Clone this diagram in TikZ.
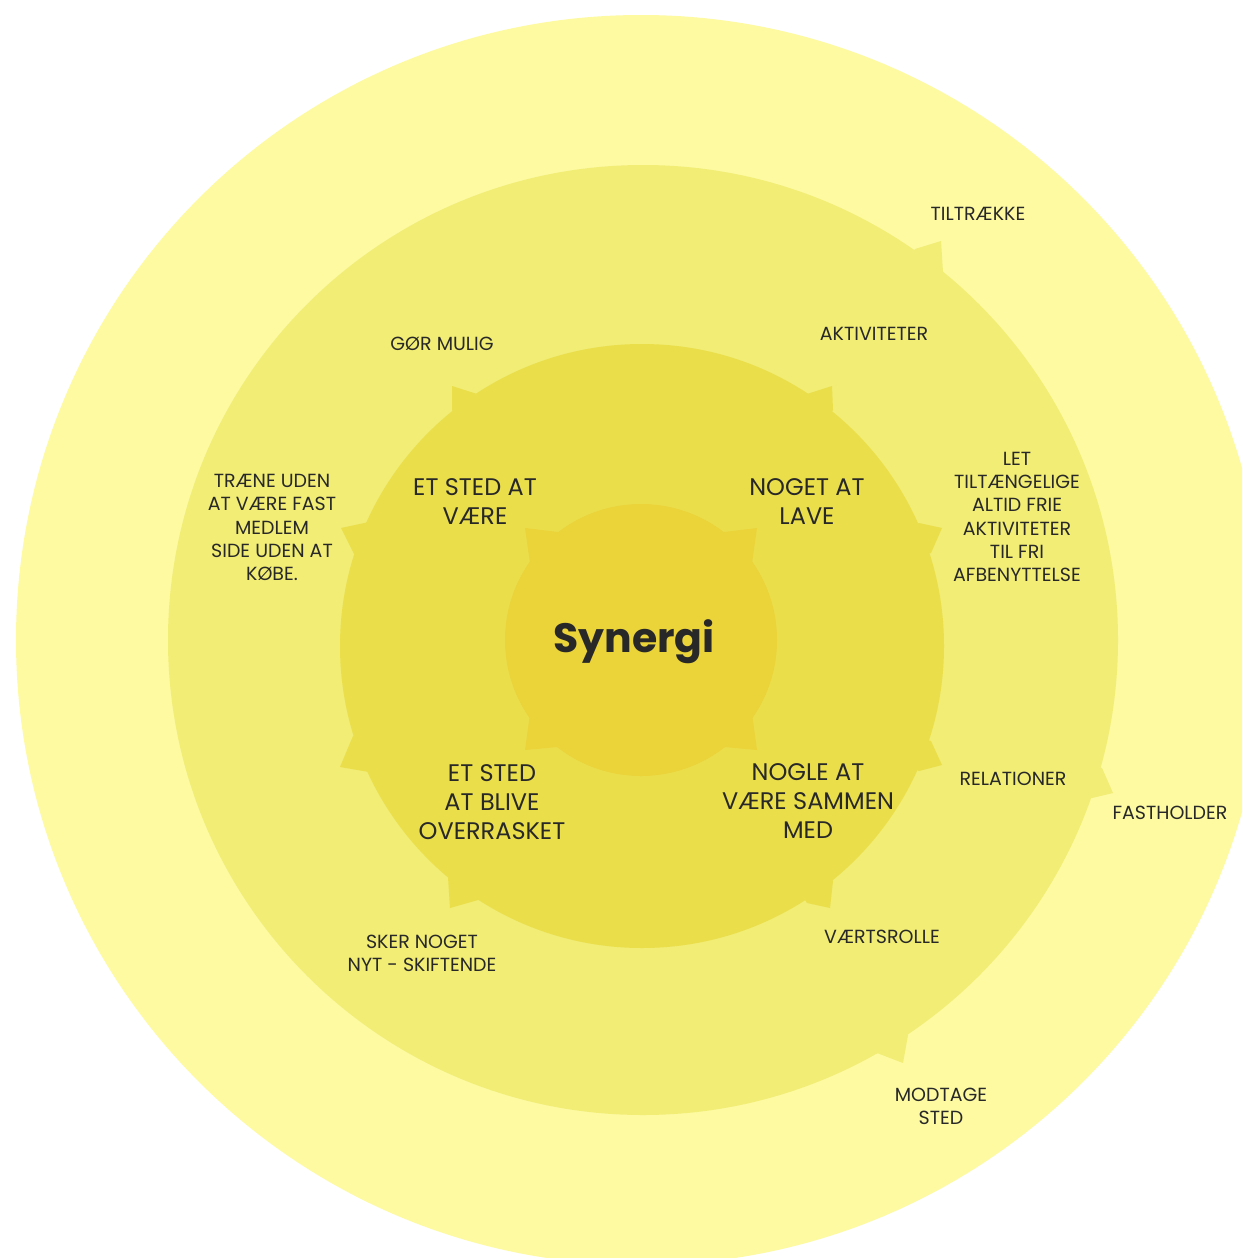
\documentclass[tikz,border=0pt]{standalone}
\usepackage{fontspec}
\setmainfont{Poppins}
\definecolor{ringA}{RGB}{253,250,162}
\definecolor{ringB}{RGB}{241,237,117}
\definecolor{ringC}{RGB}{234,222,75}
\definecolor{ringD}{RGB}{235,211,58}
\definecolor{txt}{RGB}{40,40,40}
\tikzset{
  small/.style={text=txt,align=center,font=\fontsize{19}{23.3}\selectfont,inner sep=0pt},
  medium/.style={text=txt,align=center,font=\fontsize{24}{29}\selectfont,inner sep=0pt},
  big/.style={text=txt,font=\fontsize{41}{50}\selectfont\bfseries,inner sep=0pt}
}
\begin{document}
\begin{tikzpicture}[x=1pt,y=-1pt]
\useasboundingbox (0,0) rectangle (1242,1258);
\clip (0,0) rectangle (1242,1258);
\fill[white] (0,0) rectangle (1242,1258);
% outer ring
\fill[ringA] (641,640) circle (625pt);
% second ring
\coordinate (cB) at (643,640);
\fill[ringB] (cB) circle (475pt);
\fill[ringB] (915,249) -- (941,241) -- (943,272) -- (cB) -- cycle;
\fill[ringB] (1102,768) -- (1113,793) -- (1092,798) -- (cB) -- cycle;
\fill[ringB] (908,1035) -- (903,1063) -- (877,1053) -- (cB) -- cycle;
% third ring
\coordinate (cC) at (642,646);
\fill[ringC] (cC) circle (302pt);
\fill[ringC] (452,410) -- (452,386) -- (477,394) -- (cC) -- cycle;
\fill[ringC] (807,394) -- (832,386) -- (833,410) -- (cC) -- cycle;
\fill[ringC] (369,522) -- (341,528) -- (356,558) -- (cC) -- cycle;
\fill[ringC] (919,523) -- (942,528) -- (931,553) -- (cC) -- cycle;
\fill[ringC] (353,736) -- (340,767) -- (369,772) -- (cC) -- cycle;
\fill[ringC] (448,877) -- (450,908) -- (478,900) -- (cC) -- cycle;
\fill[ringC] (833,881) -- (830,908) -- (807,903) -- (cC) -- cycle;
\fill[ringC] (931,741) -- (942,765) -- (919,771) -- (cC) -- cycle;
% inner disc
\coordinate (cD) at (641,640);
\fill[ringD] (cD) circle (136pt);
\fill[ringD] (558,532) -- (525,528) -- (530,563) -- (cD) -- cycle;
\fill[ringD] (724,532) -- (757,528) -- (752,563) -- (cD) -- cycle;
\fill[ringD] (530,714) -- (525,750) -- (558,747) -- (cD) -- cycle;
\fill[ringD] (752,714) -- (757,750) -- (724,747) -- (cD) -- cycle;
% texts
\node[big] (synergi) at (634,642) {Synergi};
\node[medium] (sted) at (475,501.5) {ET STED AT\\VÆRE};
\node[medium] (lave) at (807,501.5) {NOGET AT\\LAVE};
\node[medium] (overrasket) at (492,802) {ET STED\\AT BLIVE\\OVERRASKET};
\node[medium] (sammen) at (808,801) {NOGLE AT\\VÆRE SAMMEN\\MED};
\node[small] (tiltraekke) at (978,214) {TILTRÆKKE};
\node[small] (aktiviteter) at (874,334) {AKTIVITETER};
\node[small] (gormulig) at (442,344) {GØR MULIG};
\node[small] (traene) at (272,527.5) {TRÆNE UDEN\\AT VÆRE FAST\\MEDLEM\\SIDE UDEN AT\\KØBE.};
\node[small] (let) at (1017,517) {LET\\TILTÆNGELIGE\\ALTID FRIE\\AKTIVITETER\\TIL FRI\\AFBENYTTELSE};
\node[small] (relationer) at (1013,779) {RELATIONER};
\node[small] (fastholder) at (1170,813) {FASTHOLDER};
\node[small] (vaertsrolle) at (882,937) {VÆRTSROLLE};
\node[small] (sker) at (422,953.5) {SKER NOGET\\NYT - SKIFTENDE};
\node[small] (modtage) at (941,1106.5) {MODTAGE\\STED};
\end{tikzpicture}
\end{document}
